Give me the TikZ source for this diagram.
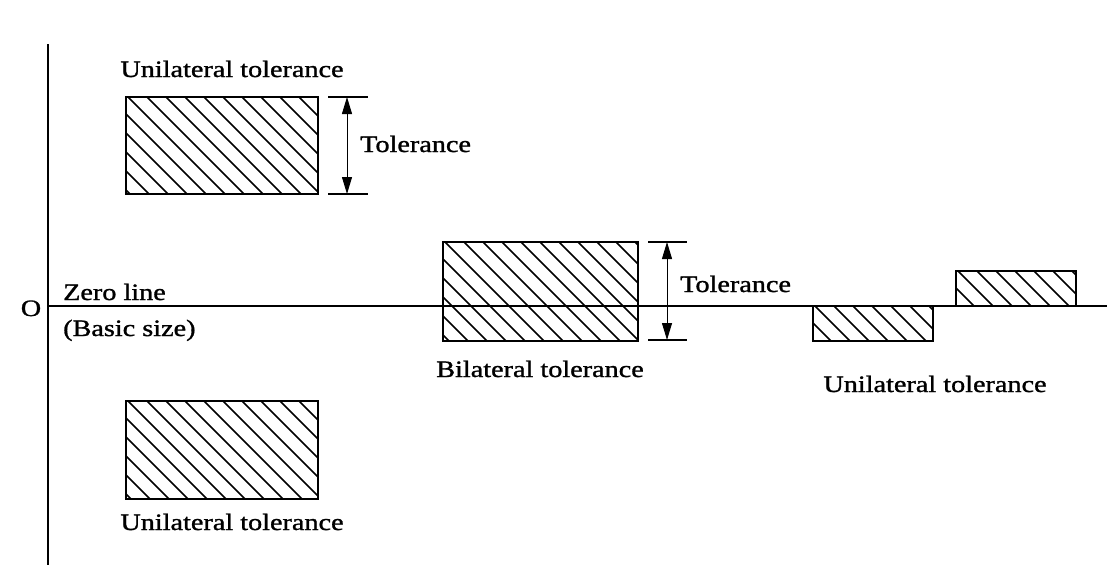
\documentclass[tikz,border=0pt]{standalone}
\usepackage{fontspec}
\setmainfont[FakeStretch=1.2,FakeBold=1.2]{Liberation Serif}
\usetikzlibrary{arrows.meta}
\begin{document}
\begin{tikzpicture}[x=1pt,y=-1pt,
  lbl/.style={font=\fontsize{23.5}{28}\selectfont, inner sep=0pt},
  hatchbox/.style={draw, line width=2.4pt, inner sep=0pt, fill=white,
    path picture={
      \foreach \k in {-12,...,12}{
        \draw[line width=1.5pt] ([xshift=\k*19pt+2pt]path picture bounding box.north west) -- ++(220pt,-220pt);
      }}},
  axis/.style={line width=1.6pt},
  ext/.style={line width=1.3pt},
  dimarrow/.style={line width=1pt, {Triangle[length=17pt,width=10pt]}-{Triangle[length=17pt,width=10pt]}}
]
\useasboundingbox (0,0) rectangle (1107,565);
\fill[white] (0,0) rectangle (1107,565);

% axes
\coordinate (axtop) at (48,44);
\coordinate (axbot) at (48,565);
\coordinate (zl0) at (48,306);
\coordinate (zl1) at (1107,306);
\draw[axis] (axtop) -- (axbot);

% boxes
\node[hatchbox, minimum width=192pt, minimum height=97pt] (b1) at (222,145.5) {};
\node[hatchbox, minimum width=192pt, minimum height=98pt] (b2) at (222,450) {};
\node[hatchbox, minimum width=195pt, minimum height=99pt] (b3) at (540.5,291.5) {};
\node[hatchbox, minimum width=120pt, minimum height=35pt] (b4) at (873,323.5) {};
\node[hatchbox, minimum width=120pt, minimum height=35pt] (b5) at (1016,288.5) {};

\draw[axis] (zl0) -- (zl1);

% dimension for top box
\coordinate (e1a) at (328,97);  \coordinate (e1b) at (368,97);
\coordinate (e1c) at (328,194); \coordinate (e1d) at (368,194);
\coordinate (d1a) at (347,97);  \coordinate (d1b) at (347,194);
\draw[ext] (e1a) -- (e1b);
\draw[ext] (e1c) -- (e1d);
\draw[dimarrow] (d1a) -- (d1b);

% dimension for bilateral box
\coordinate (e2a) at (648,242); \coordinate (e2b) at (687,242);
\coordinate (e2c) at (648,340); \coordinate (e2d) at (687,340);
\coordinate (d2a) at (667,242); \coordinate (d2b) at (667,340);
\draw[ext] (e2a) -- (e2b);
\draw[ext] (e2c) -- (e2d);
\draw[dimarrow] (d2a) -- (d2b);

% labels
\node[lbl, anchor=base] (u1) at (232,77) {Unilateral tolerance};
\node[lbl, anchor=base west] (tol1) at (360,152) {Tolerance};
\node[lbl, anchor=base west] (zl) at (63,300) {Zero line};
\node[lbl, anchor=base west] (bs) at (63,336) {(Basic size)};
\node[lbl, anchor=base] (o) at (31,316) {O};
\node[lbl, anchor=base west] (tol2) at (680,292) {Tolerance};
\node[lbl, anchor=base] (bl) at (540,377) {Bilateral tolerance};
\node[lbl, anchor=base] (u3) at (935,392) {Unilateral tolerance};
\node[lbl, anchor=base] (u2) at (232,530) {Unilateral tolerance};
\end{tikzpicture}
\end{document}
